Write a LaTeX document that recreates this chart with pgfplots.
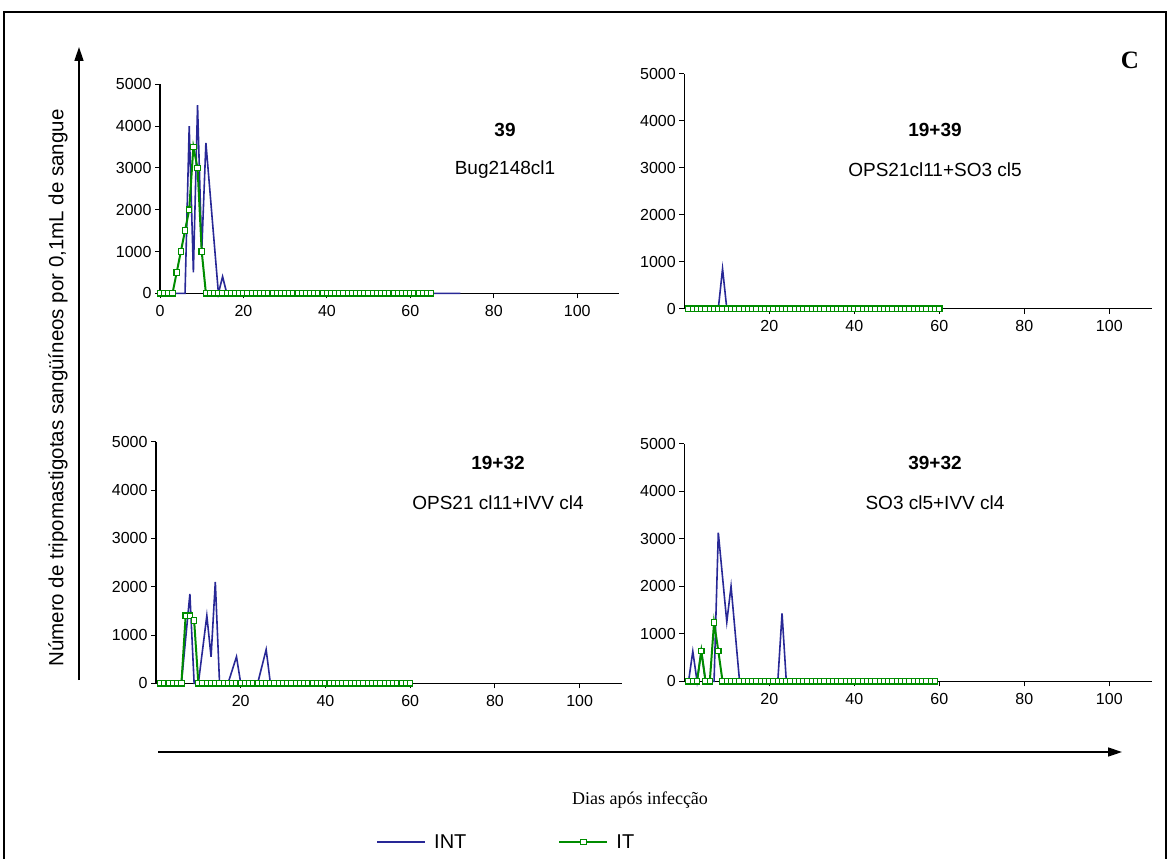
\documentclass[border=0pt]{standalone}
\usepackage{fontspec}
\setmainfont{Liberation Sans}
\newfontfamily\timesfont{Liberation Serif}
\usepackage{pgfplots}
\pgfplotsset{compat=1.18}
\usetikzlibrary{arrows.meta}

\definecolor{intblue}{RGB}{40,40,150}
\definecolor{itgreen}{RGB}{0,140,0}

\pgfplotsset{
  panel/.style={
    scale only axis, anchor=south west,
    axis lines=left, axis line style={-, line width=1.2pt},
    xmin=0, xmax=110, ymin=0, ymax=5000,
    ytick={0,1000,...,5000}, xtick={20,40,...,100},
    tick align=outside, major tick length=5pt,
    tick style={black, line width=1pt},
    tick label style={font=\fontsize{16}{18}\selectfont},
    xticklabel style={yshift=-3pt},
    /pgf/number format/assume math mode=true,
    /pgf/number format/1000 sep={},
    scaled y ticks=false, clip=false,
  },
  INT/.style={intblue, line width=1.6pt, mark=none},
  IT/.style={itgreen, line width=2pt, mark=square*,
    mark size=2.7pt, mark options={fill=white, draw=itgreen, line width=1.1pt}},
}

\begin{document}
\begin{tikzpicture}[x=1pt,y=1pt]
\useasboundingbox (0,0) rectangle (1170,-859);
\draw[line width=1.5pt] (4,-880) -- (4,-12) -- (1166,-12) -- (1166,-880);

% painel 39
\begin{axis}[panel, at={(160pt,-293.3pt)}, width=459pt, height=209pt,
  xtick={0,20,...,100}]
\addplot[INT] coordinates {(0,0) (6,0) (7,4000) (8,500) (9,4500) (10,1000)
  (11,3600) (14,0) (15,400) (16,0) (72,0)};
\addplot[IT] coordinates {(0,0) (1,0) (2,0) (3,0) (4,500) (5,1000) (6,1500)
  (7,2000) (8,3500) (9,3000) (10,1000) (11,0) (12,0) (13,0) (14,0) (15,0)
  (16,0) (17,0) (18,0) (19,0) (20,0) (21,0) (22,0) (23,0) (24,0) (25,0)
  (26,0) (27,0) (28,0) (29,0) (30,0) (31,0) (32,0) (33,0) (34,0) (35,0)
  (36,0) (37,0) (38,0) (39,0) (40,0) (41,0) (42,0) (43,0) (44,0) (45,0)
  (46,0) (47,0) (48,0) (49,0) (50,0) (51,0) (52,0) (53,0) (54,0) (55,0)
  (56,0) (57,0) (58,0) (59,0) (60,0) (61,0) (62,0) (63,0) (64,0) (65,0)};
\end{axis}

% painel 19+39
\begin{axis}[panel, at={(684.3pt,-308.7pt)}, width=467.5pt, height=235pt]
\addplot[INT] coordinates {(1,0) (8,0) (9,850) (10,0) (60,0)};
\addplot[IT] coordinates {(1,0) (2,0) (3,0) (4,0) (5,0) (6,0) (7,0) (8,0)
  (9,0) (10,0) (11,0) (12,0) (13,0) (14,0) (15,0) (16,0) (17,0) (18,0)
  (19,0) (20,0) (21,0) (22,0) (23,0) (24,0) (25,0) (26,0) (27,0) (28,0)
  (29,0) (30,0) (31,0) (32,0) (33,0) (34,0) (35,0) (36,0) (37,0) (38,0)
  (39,0) (40,0) (41,0) (42,0) (43,0) (44,0) (45,0) (46,0) (47,0) (48,0)
  (49,0) (50,0) (51,0) (52,0) (53,0) (54,0) (55,0) (56,0) (57,0) (58,0)
  (59,0) (60,0)};
\end{axis}

% painel 19+32
\begin{axis}[panel, at={(156pt,-683.3pt)}, width=466pt, height=241.5pt,
  legend style={at={(0.752,-0.657)}, anchor=center, draw=none, fill=none,
    font=\fontsize{20}{22}\selectfont, legend columns=2,
    /tikz/every odd column/.append style={column sep=6pt},
    /tikz/every even column/.append style={column sep=90pt}},
  legend image code/.code={\draw[mark repeat=2,mark phase=2]
    plot coordinates {(0pt,0pt) (24pt,0pt) (48pt,0pt)};}]
\addplot[INT] coordinates {(1,0) (6,0) (8,1850) (9,0) (10,0) (12,1400)
  (13,550) (14,2100) (15,0) (17,0) (19,550) (20,0) (24,0) (26,700) (27,0) (60,0)};
\addlegendentry{INT}
\addplot[IT] coordinates {(1,0) (2,0) (3,0) (4,0) (5,0) (6,0) (7,1400)
  (8,1400) (9,1300) (10,0) (11,0) (12,0) (13,0) (14,0) (15,0) (16,0) (17,0)
  (18,0) (19,0) (20,0) (21,0) (22,0) (23,0) (24,0) (25,0) (26,0) (27,0)
  (28,0) (29,0) (30,0) (31,0) (32,0) (33,0) (34,0) (35,0) (36,0) (37,0)
  (38,0) (39,0) (40,0) (41,0) (42,0) (43,0) (44,0) (45,0) (46,0) (47,0)
  (48,0) (49,0) (50,0) (51,0) (52,0) (53,0) (54,0) (55,0) (56,0) (57,0)
  (58,0) (59,0) (60,0)};
\addlegendentry{IT}
\end{axis}

% painel 39+32
\begin{axis}[panel, at={(684.3pt,-681.3pt)}, width=467.5pt, height=237.5pt]
\addplot[INT] coordinates {(1,0) (2,630) (3,0) (4,640) (5,0) (7,0) (8,3130)
  (10,1250) (11,2000) (13,0) (22,0) (23,1430) (24,0) (59,0)};
\addplot[IT] coordinates {(1,0) (2,0) (3,0) (4,640) (5,0) (6,0) (7,1240)
  (8,640) (9,0) (10,0) (11,0) (12,0) (13,0) (14,0) (15,0) (16,0) (17,0)
  (18,0) (19,0) (20,0) (21,0) (22,0) (23,0) (24,0) (25,0) (26,0) (27,0)
  (28,0) (29,0) (30,0) (31,0) (32,0) (33,0) (34,0) (35,0) (36,0) (37,0)
  (38,0) (39,0) (40,0) (41,0) (42,0) (43,0) (44,0) (45,0) (46,0) (47,0)
  (48,0) (49,0) (50,0) (51,0) (52,0) (53,0) (54,0) (55,0) (56,0) (57,0)
  (58,0) (59,0)};
\end{axis}

% textos dos paineis
\begin{scope}[font=\fontsize{19}{21}\selectfont]
\node[font=\fontsize{19}{21}\selectfont\bfseries] at (505,-130) {39};
\node at (505,-170) {Bug2148cl1};
\node[font=\fontsize{19}{21}\selectfont\bfseries] at (935,-130) {19+39};
\node at (935,-170) {OPS21cl11+SO3 cl5};
\node[font=\fontsize{19}{21}\selectfont\bfseries] at (498,-463) {19+32};
\node at (498,-503) {OPS21 cl11+IVV cl4};
\node[font=\fontsize{19}{21}\selectfont\bfseries] at (935,-463) {39+32};
\node at (935,-503) {SO3 cl5+IVV cl4};
\end{scope}

\node[font=\fontsize{25}{27}\selectfont\timesfont\bfseries] at (1130,-60) {C};
\node[rotate=90, font=\fontsize{20.5}{22}\selectfont] at (58,-388)
  {Número de tripomastigotas sangüíneos por 0,1mL de sangue};
\draw[line width=1.5pt, -{Triangle[length=14pt,width=9pt]}] (79,-680) -- (79,-47);
\draw[line width=1.5pt, -{Triangle[length=14pt,width=9pt]}] (158,-752) -- (1122,-752);
\node[font=\fontsize{18}{20}\selectfont\timesfont] at (640,-800) {Dias após infecção};
\end{tikzpicture}
\end{document}
